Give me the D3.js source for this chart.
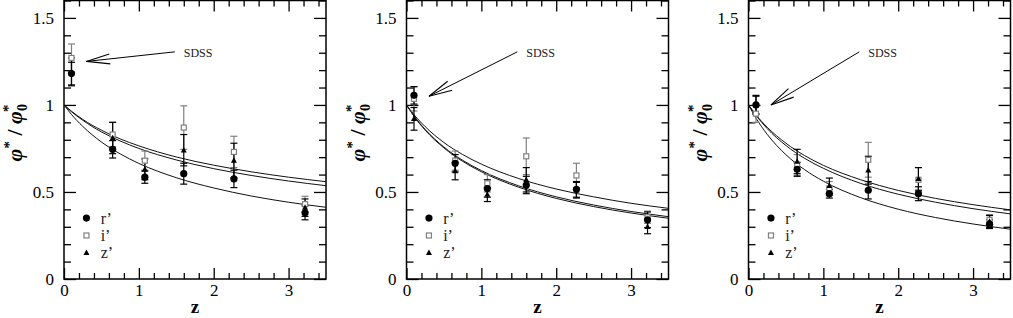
<!DOCTYPE html>
<html>
<head>
<meta charset="utf-8">
<script src="https://cdn.jsdelivr.net/npm/d3@7"></script>
<style>
  html, body { margin: 0; padding: 0; background: #fff; }
  svg { display: block; }
</style>
</head>
<body>
<div id="chart"></div>
<script>
// redshift bins shared by all three panels
const zBins = [0.1, 0.65, 1.08, 1.6, 2.27, 3.22];

// panel 1
const p1R = [1.18, 0.745, 0.585, 0.605, 0.575, 0.38];
const p1RErr = [0.065, 0.05, 0.035, 0.06, 0.05, 0.04];
const p1I = [1.27, 0.83, 0.68, 0.87, 0.73, 0.43];
const p1IErr = [0.08, 0.07, 0.055, 0.125, 0.09, 0.045];
const p1Z = [1.19, 0.81, 0.63, 0.74, 0.68, 0.41];
const p1ZErr = [0.08, 0.09, 0.06, 0.09, 0.1, 0.05];

// panel 2
const p2R = [1.055, 0.665, 0.52, 0.54, 0.515, 0.34];
const p2RErr = [0.05, 0.05, 0.05, 0.05, 0.045, 0.045];
const p2I = [1.035, 0.68, 0.55, 0.705, 0.595, 0.355];
const p2IErr = [0.07, 0.055, 0.05, 0.105, 0.07, 0.035];
const p2Z = [0.92, 0.62, 0.485, 0.57, 0.51, 0.3];
const p2ZErr = [0.065, 0.05, 0.04, 0.07, 0.045, 0.04];

// panel 3
const p3R = [1.0, 0.63, 0.49, 0.51, 0.49, 0.315];
const p3RErr = [0.055, 0.04, 0.025, 0.05, 0.04, 0.025];
const p3I = [0.95, 0.655, 0.52, 0.685, 0.57, 0.34];
const p3IErr = [0.05, 0.06, 0.04, 0.1, 0.07, 0.03];
const p3Z = [1.0, 0.675, 0.535, 0.625, 0.575, 0.33];
const p3ZErr = [0.05, 0.07, 0.045, 0.08, 0.065, 0.035];

// fitted curves
const fitZ = [0, 0.1, 0.25, 0.5, 0.75, 1, 1.5, 2, 2.5, 3, 3.5];
const p1Fits = [
  [1, 0.964, 0.917, 0.855, 0.805, 0.765, 0.701, 0.654, 0.616, 0.585, 0.559],
  [1, 0.961, 0.912, 0.845, 0.793, 0.75, 0.684, 0.634, 0.595, 0.563, 0.536],
  [1, 0.945, 0.877, 0.787, 0.719, 0.664, 0.582, 0.523, 0.477, 0.441, 0.412],
];
const p2Fits = [
  [1, 0.944, 0.875, 0.784, 0.715, 0.66, 0.577, 0.517, 0.472, 0.435, 0.406],
  [1, 0.937, 0.859, 0.758, 0.682, 0.623, 0.535, 0.472, 0.425, 0.388, 0.358],
  [1, 0.935, 0.855, 0.753, 0.676, 0.616, 0.527, 0.463, 0.416, 0.379, 0.349],
];
const p3Fits = [
  [1, 0.943, 0.872, 0.78, 0.709, 0.653, 0.57, 0.509, 0.463, 0.427, 0.397],
  [1, 0.94, 0.864, 0.767, 0.693, 0.636, 0.549, 0.487, 0.441, 0.404, 0.374],
  [1, 0.924, 0.831, 0.714, 0.628, 0.562, 0.467, 0.401, 0.353, 0.316, 0.286],
];

// SDSS arrow tip height per panel
const sdssTip = [1.25, 1.05, 1.0];

const yTicks = [0, 0.5, 1, 1.5];
const xTicks = [0, 1, 2, 3];
const legendLabels = ["r\u2019", "i\u2019", "z\u2019"];

const panels = [
  { r: p1R, rErr: p1RErr, i: p1I, iErr: p1IErr, z: p1Z, zErr: p1ZErr, fits: p1Fits, tip: sdssTip[0] },
  { r: p2R, rErr: p2RErr, i: p2I, iErr: p2IErr, z: p2Z, zErr: p2ZErr, fits: p2Fits, tip: sdssTip[1] },
  { r: p3R, rErr: p3RErr, i: p3I, iErr: p3IErr, z: p3Z, zErr: p3ZErr, fits: p3Fits, tip: sdssTip[2] },
];

const width = 1013, height = 318;
const serif = '"Liberation Serif", "DejaVu Serif", serif';
const lefts = [64, 406.5, 748.5];
const pw = 262, plotTop = 0.5, plotBottom = 279;
const gray = "#808080";

const svg = d3.select("#chart").append("svg").attr("width", width).attr("height", height);

panels.forEach((p, k) => {
  const x = d3.scaleLinear().domain([0, 3.5]).range([lefts[k], lefts[k] + pw]);
  const y = d3.scaleLinear().domain([0, 1.6]).range([plotBottom, plotTop]);
  const g = svg.append("g");

  // inward ticks on all four sides: major + minor
  const xMinor = d3.range(0, 3.5001, 0.2).filter((v) => Math.abs(v - Math.round(v)) > 1e-6);
  const yMinor = d3.range(0, 1.6001, 0.1).filter((v) => Math.abs(v * 2 - Math.round(v * 2)) > 1e-6);

  const axes = [
    [d3.axisBottom(x).tickValues(xTicks).tickSize(-11).tickPadding(5).tickFormat(d3.format("")), `translate(0,${plotBottom})`],
    [d3.axisBottom(x).tickValues(xMinor).tickSize(-6).tickFormat(""), `translate(0,${plotBottom})`],
    [d3.axisTop(x).tickValues(xTicks).tickSize(-11).tickFormat(""), `translate(0,${plotTop})`],
    [d3.axisTop(x).tickValues(xMinor).tickSize(-6).tickFormat(""), `translate(0,${plotTop})`],
    [d3.axisLeft(y).tickValues(yTicks).tickSize(-12).tickPadding(10).tickFormat(d3.format("")), `translate(${x(0)},0)`],
    [d3.axisLeft(y).tickValues(yMinor).tickSize(-7).tickFormat(""), `translate(${x(0)},0)`],
    [d3.axisRight(y).tickValues(yTicks).tickSize(-12).tickFormat(""), `translate(${x(3.5)},0)`],
    [d3.axisRight(y).tickValues(yMinor).tickSize(-7).tickFormat(""), `translate(${x(3.5)},0)`],
  ];
  axes.forEach(([ax, tr]) => {
    const a = g.append("g").attr("transform", tr).call(ax);
    a.select(".domain").remove();
    a.selectAll(".tick line").attr("stroke", "#000").attr("stroke-width", 1.3);
    a.attr("font-family", serif).attr("font-size", 17);
    a.selectAll(".tick text").attr("fill", "#000");
  });

  g.append("rect")
    .attr("x", x(0)).attr("y", plotTop)
    .attr("width", x(3.5) - x(0)).attr("height", plotBottom - plotTop)
    .attr("fill", "none").attr("stroke", "#000").attr("stroke-width", 1.5);

  // fitted curves
  const line = d3.line().x((d) => x(d[0])).y((d) => y(d[1])).curve(d3.curveMonotoneX);
  p.fits.forEach((f) => {
    g.append("path")
      .attr("d", line(fitZ.map((z, j) => [z, f[j]])))
      .attr("fill", "none").attr("stroke", "#111").attr("stroke-width", 1);
  });

  // error bars
  const series = [
    { v: p.i, e: p.iErr, color: gray },
    { v: p.z, e: p.zErr, color: "#000" },
    { v: p.r, e: p.rErr, color: "#000" },
  ];
  series.forEach((s) => {
    const eb = g.append("g").attr("stroke", s.color).attr("stroke-width", 1.2);
    zBins.forEach((zb, j) => {
      const cx = x(zb), y1 = y(s.v[j] + s.e[j]), y2 = y(s.v[j] - s.e[j]);
      eb.append("line").attr("x1", cx).attr("x2", cx).attr("y1", y1).attr("y2", y2);
      eb.append("line").attr("x1", cx - 3.5).attr("x2", cx + 3.5).attr("y1", y1).attr("y2", y1);
      eb.append("line").attr("x1", cx - 3.5).attr("x2", cx + 3.5).attr("y1", y2).attr("y2", y2);
    });
  });

  // markers
  const sqr = (gg, cx, cy) => gg.append("rect").attr("x", cx - 2.5).attr("y", cy - 2.5).attr("width", 5).attr("height", 5)
    .attr("fill", "#fff").attr("stroke", gray).attr("stroke-width", 1.2);
  const tri = (gg, cx, cy) => gg.append("path").attr("d", `M${cx},${cy - 3.3}L${cx + 3},${cy + 2.2}L${cx - 3},${cy + 2.2}Z`).attr("fill", "#000");
  const dot = (gg, cx, cy) => gg.append("circle").attr("cx", cx).attr("cy", cy).attr("r", 3.6).attr("fill", "#000");

  zBins.forEach((zb, j) => sqr(g, x(zb), y(p.i[j])));
  zBins.forEach((zb, j) => tri(g, x(zb), y(p.z[j])));
  zBins.forEach((zb, j) => dot(g, x(zb), y(p.r[j])));

  // legend
  const legY = [0.35, 0.25, 0.15];
  dot(g, x(0.3), y(legY[0]));
  sqr(g, x(0.3), y(legY[1]));
  tri(g, x(0.3), y(legY[2]));
  legendLabels.forEach((t, j) => {
    g.append("text").attr("x", x(0.49)).attr("y", y(legY[j])).attr("dy", "0.35em")
      .attr("font-family", serif).attr("font-size", 16).attr("fill", "#222").text(t);
  });

  // SDSS annotation with open arrow
  const tail = [x(1.48), y(1.305)], tip = [x(0.3), y(p.tip)];
  g.append("line").attr("x1", tail[0]).attr("y1", tail[1]).attr("x2", tip[0]).attr("y2", tip[1])
    .attr("stroke", "#000").attr("stroke-width", 1);
  const ang = Math.atan2(tail[1] - tip[1], tail[0] - tip[0]);
  [-0.21, 0.21].forEach((da) => {
    g.append("line").attr("x1", tip[0]).attr("y1", tip[1])
      .attr("x2", tip[0] + 24 * Math.cos(ang + da)).attr("y2", tip[1] + 24 * Math.sin(ang + da))
      .attr("stroke", "#000").attr("stroke-width", 1.1);
  });
  g.append("text").attr("x", x(1.6)).attr("y", y(1.3)).attr("dy", "0.35em")
    .attr("font-family", serif).attr("font-size", 12).attr("fill", "#222").text("SDSS");

  // axis titles
  g.append("text").attr("x", (x(0) + x(3.5)) / 2).attr("y", 313)
    .attr("text-anchor", "middle").attr("font-family", serif).attr("font-size", 19).attr("font-weight", "bold").text("z");

  const yl = g.append("text").attr("transform", `translate(${x(0) - 42},${y(0.84)}) rotate(-90)`)
    .attr("text-anchor", "middle").attr("font-family", serif).attr("font-size", 22).attr("font-weight", "bold");
  yl.append("tspan").attr("font-style", "italic").text("\u03c6");
  yl.append("tspan").attr("font-size", 15).attr("dy", -8).text("*");
  yl.append("tspan").attr("dy", 8).text(" / ");
  yl.append("tspan").attr("font-style", "italic").text("\u03c6");
  yl.append("tspan").attr("font-size", 14).attr("dy", 5).text("0");
  yl.append("tspan").attr("font-size", 15).attr("dx", -8).attr("dy", -14).text("*");
});
</script>
</body>
</html>
